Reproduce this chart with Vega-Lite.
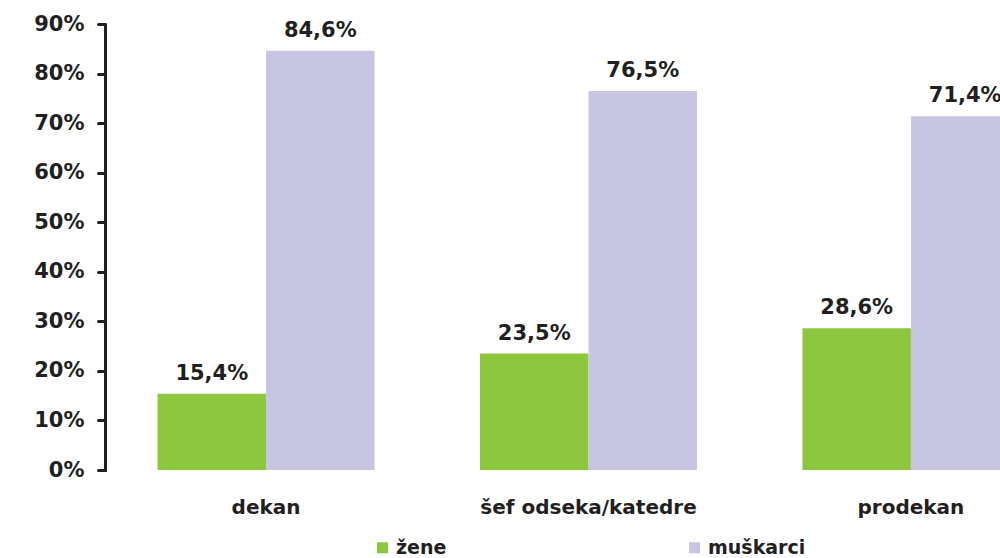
{
  "$schema": "https://vega.github.io/schema/vega-lite/v6.json",
  "width": 895,
  "height": 446,
  "autosize": {"type": "none"},
  "padding": {"left": 105, "top": 24, "right": 0, "bottom": 88},
  "background": "white",
  "config": {
    "locale": {"number": {"decimal": ",", "thousands": ".", "grouping": [3], "currency": ["", " €"]}},
    "font": "DejaVu Sans",
    "view": {"stroke": null}
  },
  "data": {
    "values": [
      {"pozicija": "dekan", "pol": "žene", "udeo": 0.154},
      {"pozicija": "dekan", "pol": "muškarci", "udeo": 0.846},
      {"pozicija": "šef odseka/katedre", "pol": "žene", "udeo": 0.235},
      {"pozicija": "šef odseka/katedre", "pol": "muškarci", "udeo": 0.765},
      {"pozicija": "prodekan", "pol": "žene", "udeo": 0.286},
      {"pozicija": "prodekan", "pol": "muškarci", "udeo": 0.714}
    ]
  },
  "encoding": {
    "x": {
      "field": "pozicija", "type": "nominal",
      "sort": ["dekan", "šef odseka/katedre", "prodekan"],
      "scale": {"range": [0, 967], "paddingInner": 0.327, "paddingOuter": 0.163},
      "axis": {"title": null, "domain": false, "ticks": false, "labelAngle": 0, "labelFontSize": 20, "labelFontWeight": "bold", "labelColor": "#231F20", "labelPadding": 27, "labelFont": "DejaVu Sans", "labelLimit": 0}
    },
    "xOffset": {"field": "pol", "type": "nominal", "sort": ["žene", "muškarci"]},
    "y": {
      "field": "udeo", "type": "quantitative",
      "scale": {"domain": [0, 0.9], "nice": false},
      "axis": {"title": null, "values": [0, 0.1, 0.2, 0.3, 0.4, 0.5, 0.6, 0.7, 0.8, 0.9], "format": ".0%", "grid": false, "domainColor": "#231F20", "domainWidth": 3, "domainCap": "round", "tickColor": "#231F20", "tickWidth": 3, "tickSize": 7, "tickCap": "round", "labelFontSize": 21, "labelFontWeight": "bold", "labelColor": "#231F20", "labelPadding": 14, "labelFont": "DejaVu Sans"}
    }
  },
  "layer": [
    {
      "mark": {"type": "bar"},
      "encoding": {
        "color": {
          "field": "pol", "type": "nominal",
          "scale": {"domain": ["žene", "muškarci"], "range": ["#8DC63F", "#C8C5E2"]},
          "legend": {"title": null, "orient": "none", "direction": "horizontal", "legendX": 268, "legendY": 514, "symbolType": "square", "symbolSize": 121, "symbolStrokeWidth": 0, "labelFontSize": 19, "labelFontWeight": "bold", "labelColor": "#231F20", "labelFont": "DejaVu Sans", "labelOffset": 4, "columnPadding": 238}
        }
      }
    },
    {
      "mark": {"type": "text", "baseline": "alphabetic", "dy": -14, "fontSize": 21, "fontWeight": "bold", "color": "#231F20", "font": "DejaVu Sans"},
      "encoding": {
        "text": {"field": "udeo", "type": "quantitative", "format": ".1%"}
      }
    }
  ]
}
